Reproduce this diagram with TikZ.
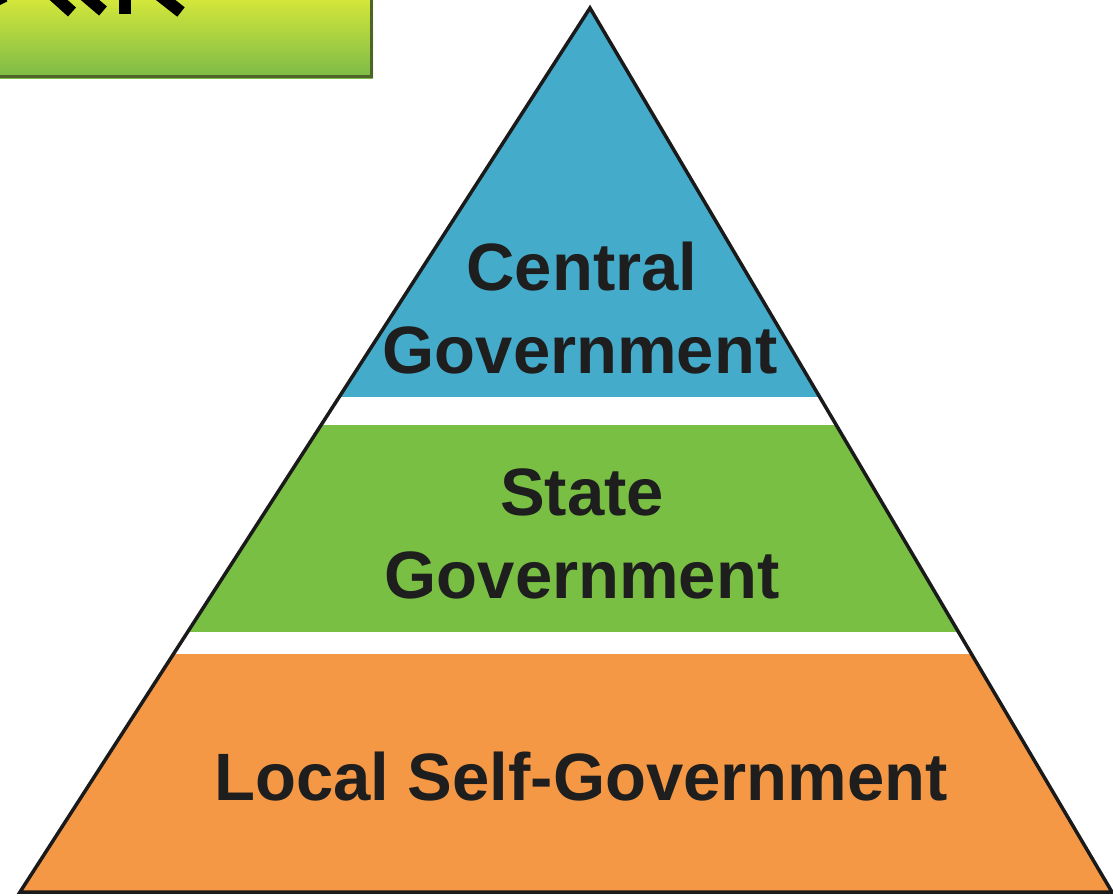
\documentclass[tikz,border=0pt]{standalone}
\usepackage{fontspec}
\setmainfont{Liberation Sans}
\definecolor{cblue}{HTML}{45ABCA}
\definecolor{cgreen}{HTML}{79BF44}
\definecolor{corange}{HTML}{F59846}
\definecolor{outline}{HTML}{1A1A1A}
\definecolor{textdark}{HTML}{1E1E1E}
\definecolor{boxtop}{HTML}{D3E63A}
\definecolor{boxbottom}{HTML}{7BBA48}
\definecolor{boxedge}{HTML}{4F6428}
\begin{document}
\begin{tikzpicture}[x=1pt,y=-1pt,
  lbl/.style={font=\bfseries\fontsize{67}{72}\selectfont, text=textdark, inner sep=0pt, anchor=base},
  stroke/.style={line width=12pt, black, line cap=butt}]
\useasboundingbox (0,0) rectangle (1113,895);
% top-left banner
\shade[top color=boxtop, bottom color=boxbottom] (0,0) rectangle (373,78);
\draw[boxedge, line width=3pt] (371.5,0) -- (371.5,76.5) -- (0,76.5);
\begin{scope}
\clip (0,0) rectangle (373,78);
\draw[stroke] (-2,-4) -- (2,4);
\draw[stroke] (52,-6) -- (72,12);
\draw[stroke] (83,-6) -- (103,11);
\draw[stroke] (125,-6) -- (125,14);
\draw[stroke] (158,-6) -- (181,12);
\end{scope}
% pyramid
\coordinate (apex) at (590,8);
\coordinate (bl) at (20,892);
\coordinate (br) at (1112,892);
\begin{scope}
\clip (apex) -- (bl) -- (br) -- cycle;
\fill[white] (0,0) rectangle (1113,895);
\fill[cblue] (0,0) rectangle (1113,397);
\fill[cgreen] (0,425) rectangle (1113,632);
\fill[corange] (0,654) rectangle (1113,895);
\end{scope}
\draw[outline, line width=3.5pt, line join=miter] (apex) -- (bl) -- (br) -- cycle;
% labels
\node[lbl] (central) at (582,290) {Central};
\node[lbl] (centralgov) at (580,373) {Government};
\node[lbl] (state) at (582,515) {State};
\node[lbl] (stategov) at (582,598) {Government};
\node[lbl] (local) at (581,800) {Local Self-Government};
\end{tikzpicture}
\end{document}
